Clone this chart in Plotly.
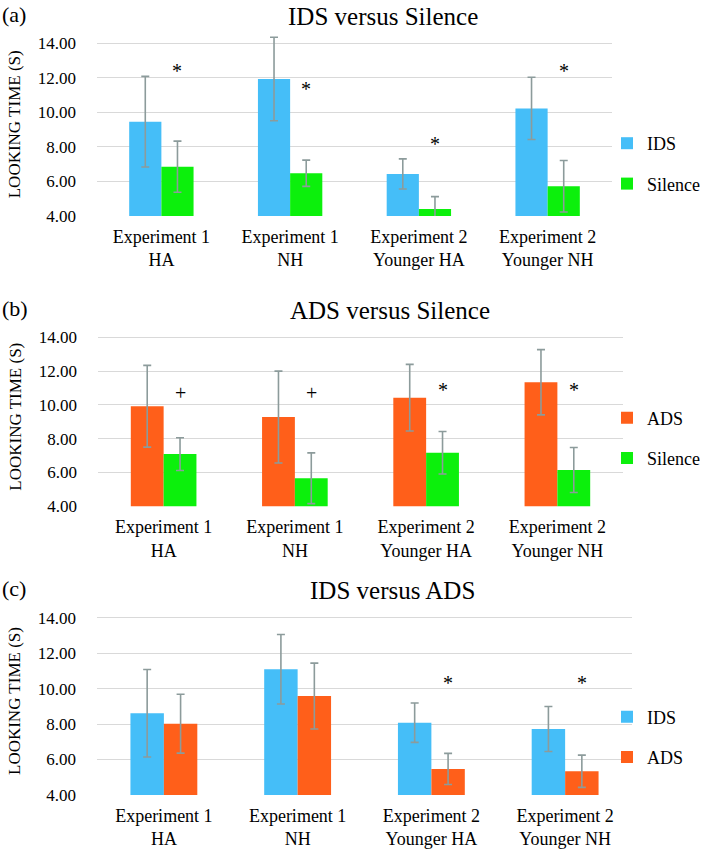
import plotly.graph_objects as go

# ---------------- data ----------------
groups = ["Experiment 1<br>HA", "Experiment 1<br>NH", "Experiment 2<br>Younger HA", "Experiment 2<br>Younger NH"]
y_ticks = [4, 6, 8, 10, 12, 14]
y_ticktext = ["4.00", "6.00", "8.00", "10.00", "12.00", "14.00"]

a_ids = [9.45, 11.92, 6.43, 10.22]
a_ids_err = [2.62, 2.41, 0.87, 1.80]
a_sil = [6.85, 6.47, 4.40, 5.72]
a_sil_err = [1.48, 0.76, 0.72, 1.49]
a_marks = ["*", "*", "*", "*"]
a_mark_y = [12.4, 11.35, 8.15, 12.4]

b_ads = [9.92, 9.28, 10.43, 11.34]
b_ads_err = [2.42, 2.72, 1.97, 1.93]
b_sil = [7.09, 5.66, 7.17, 6.15]
b_sil_err = [0.97, 1.50, 1.26, 1.33]
b_marks = ["+", "+", "*", "*"]
b_mark_y = [10.69, 10.69, 10.9, 10.9]

c_ids = [8.61, 11.09, 8.08, 7.72]
c_ids_err = [2.47, 1.96, 1.11, 1.27]
c_ads = [8.02, 9.58, 5.47, 5.34]
c_ads_err = [1.66, 1.86, 0.88, 0.91]
c_marks = ["", "", "*", "*"]
c_mark_y = [None, None, 10.3, 10.3]

# ---------------- style ----------------
W, H = 710, 849
FONT = "Liberation Serif, Times New Roman, serif"
C_IDS = "#45BEF8"
C_SIL = "#0CF00C"
C_ADS = "#FF5F1A"
C_ERR = "#8C9B9B"
C_GRID = "#D9D9D9"
Y_TOP = 14.6

def px_x(p):
    return p / W

def px_y(p):
    return 1 - p / H

panels = [
    dict(tag="(a)", title="IDS versus Silence", x0=97, x1=612, y0=43, y1=216, title_x=383,
         s1=("IDS", a_ids, a_ids_err, C_IDS), s2=("Silence", a_sil, a_sil_err, C_SIL),
         marks=a_marks, mark_y=a_mark_y, leg_y=163.5),
    dict(tag="(b)", title="ADS versus Silence", x0=98, x1=623, y0=337.3, y1=506.3, title_x=390,
         s1=("ADS", b_ads, b_ads_err, C_ADS), s2=("Silence", b_sil, b_sil_err, C_SIL),
         marks=b_marks, mark_y=b_mark_y, leg_y=438),
    dict(tag="(c)", title="IDS versus ADS", x0=97, x1=632, y0=617.7, y1=795, title_x=392,
         s1=("IDS", c_ids, c_ids_err, C_IDS), s2=("ADS", c_ads, c_ads_err, C_ADS),
         marks=c_marks, mark_y=c_mark_y, leg_y=737),
]

fig = go.Figure()
annotations = []
layout = {}
xs = list(range(len(groups)))

for i, p in enumerate(panels):
    n = "" if i == 0 else str(i + 1)
    xa, ya = "x" + n, "y" + n
    leg = "legend" + n
    unit = (p["y1"] - p["y0"]) / 10.0
    top_px = p["y0"] - (Y_TOP - 14) * unit
    for j, (name, vals, errs, col) in enumerate([p["s1"], p["s2"]]):
        fig.add_trace(go.Bar(
            x=xs, y=vals, name=name, xaxis=xa, yaxis=ya, legend=leg,
            legendgroup=f"{i}-{j}", offsetgroup=str(j),
            marker=dict(color=col, line=dict(width=0)),
            error_y=dict(type="data", array=errs, visible=True, color=C_ERR, thickness=1.6, width=4),
        ))
    layout["xaxis" + n] = dict(
        domain=[px_x(p["x0"]), px_x(p["x1"])], anchor=ya, range=[-0.5, 3.5], automargin=False,
        tickvals=xs, ticktext=groups, showgrid=False, zeroline=False, showline=False,
        ticks="", tickfont=dict(family=FONT, size=18, color="#000"), ticklabelstandoff=8,
    )
    layout["yaxis" + n] = dict(
        domain=[px_y(p["y1"]), px_y(top_px)], anchor=xa, range=[4, Y_TOP], automargin=False,
        tickvals=y_ticks, ticktext=y_ticktext, showgrid=True, gridcolor=C_GRID, gridwidth=1,
        zeroline=False, showline=False, ticks="", ticklabelstandoff=20,
        tickfont=dict(family=FONT, size=17, color="#000"),
        title=dict(text="LOOKING TIME (S)", font=dict(family=FONT, size=17, color="#000"), standoff=12),
    )
    layout[leg] = dict(
        x=px_x(607), xanchor="left", y=px_y(p["leg_y"]), yanchor="middle",
        font=dict(family=FONT, size=18, color="#000"), traceorder="grouped",
        tracegroupgap=14, bgcolor="rgba(0,0,0,0)", itemclick=False,
    )
    annotations.append(dict(text=p["title"], x=px_x(p["title_x"]), y=px_y(p["y0"] - 27),
                             xref="paper", yref="paper", showarrow=False, xanchor="center", yanchor="middle",
                             font=dict(family=FONT, size=25, color="#000")))
    annotations.append(dict(text=p["tag"], x=0.0, y=px_y(p["y0"] - 29),
                             xref="paper", yref="paper", showarrow=False, xanchor="left", yanchor="middle",
                             font=dict(family=FONT, size=22, color="#000")))
    for k, (m, my) in enumerate(zip(p["marks"], p["mark_y"])):
        if m and my is not None:
            annotations.append(dict(text=m, x=k + 0.125, y=my, xref=xa, yref=ya, showarrow=False,
                                    xanchor="center", yanchor="middle",
                                    font=dict(family=FONT, size=20, color="#000")))

fig.update_layout(
    width=W, height=H, margin=dict(l=0, r=0, t=0, b=0, autoexpand=False),
    paper_bgcolor="white", plot_bgcolor="white",
    barmode="group", bargap=0.5, bargroupgap=0,
    annotations=annotations, showlegend=True,
    **layout,
)

fig.write_html(
    "out.html",
    config={"displayModeBar": False, "staticPlot": True},
    post_script="document.body.style.margin='0';document.body.style.overflow='hidden';",
)
